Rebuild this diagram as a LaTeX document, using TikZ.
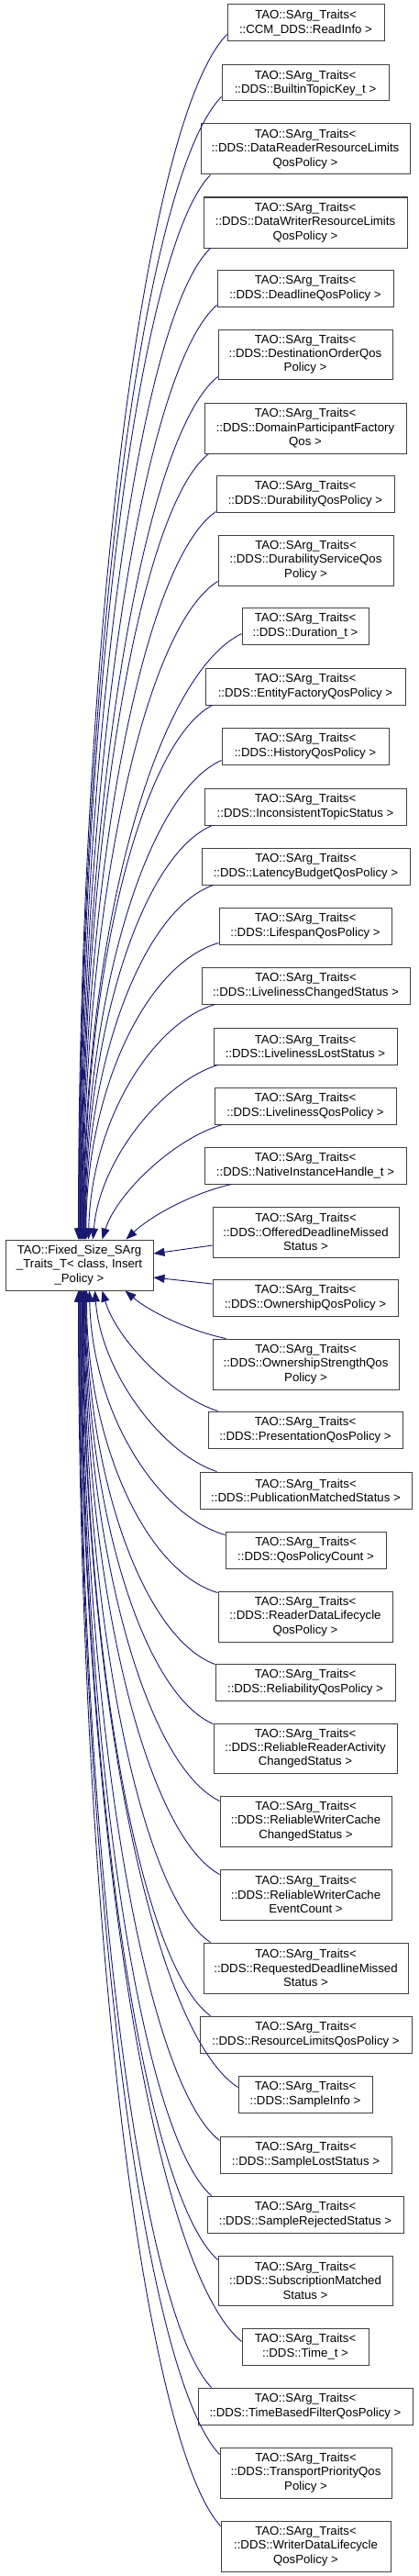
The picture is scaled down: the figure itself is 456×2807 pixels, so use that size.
\documentclass[tikz,border=0pt]{standalone}
\usepackage{fontspec}
\setmainfont{Liberation Sans}
\usetikzlibrary{arrows.meta,calc}
\definecolor{edgeblue}{HTML}{191970}
\definecolor{boxline}{HTML}{404040}
\newcommand\TT{TAO::SArg\_Traits\textless}
\newcommand\cls[6]{\node[cbox,minimum width={(#3-#2)*1pt},minimum height={(#5-#4)*1pt}] (#1) at ({(#2+#3)/2},{(#4+#5)/2}) {#6};}
% general edge: #1 start, #2 end, a,b: C1 = S + (a*dx, b*dy) toward E; c,d: C2 = E + (c*dx, d*dy) back toward S
\newcommand\edg[6]{\draw[conn] let \p1=(#1), \p2=(#2) in (\p1) .. controls ({\x1+#3*(\x2-\x1)},{\y1+#4*(\y2-\y1)}) and ({\x2+#5*(\x1-\x2)},{\y2+#6*(\y1-\y2)}) .. (\p2);}
\newcommand\upedge[2]{\edg{#1}{$(base.north west)+(#2-6,0)$}{0.55}{0.07}{0}{0.5}}
\newcommand\downedge[2]{\edg{#1}{$(base.south west)+(#2-6,0)$}{0.55}{0.07}{0}{0.5}}
\begin{document}
\begin{tikzpicture}[x=1pt,y=-1pt,
  cbox/.style={draw=boxline,line width=1pt,fill=white,inner sep=0pt,align=center,font=\fontsize{13.2}{15.3}\selectfont},
  conn/.style={draw=edgeblue,line width=0.9pt,-{Triangle[length=12pt,width=9pt,fill=edgeblue]}}]
\useasboundingbox (0,0) rectangle (456,2807);
\cls{base}{6}{167}{1351}{1406}{TAO::Fixed\_Size\_SArg\\\_Traits\_T\textless{} class, Insert\\\_Policy \textgreater}
\cls{c1}{248}{419}{5}{45}{\TT\\::CCM\_DDS::ReadInfo \textgreater}
\cls{c2}{242}{424}{71}{110}{\TT\\::DDS::BuiltinTopicKey\_t \textgreater}
\cls{c3}{219}{447}{135}{190}{\TT\\::DDS::DataReaderResourceLimits\\QosPolicy \textgreater}
\cls{c4}{222}{444}{215}{270}{\TT\\::DDS::DataWriterResourceLimits\\QosPolicy \textgreater}
\cls{c5}{237}{429}{294}{334}{\TT\\::DDS::DeadlineQosPolicy \textgreater}
\cls{c6}{238}{428}{359}{413}{\TT\\::DDS::DestinationOrderQos\\Policy \textgreater}
\cls{c7}{223}{443}{439}{494}{\TT\\::DDS::DomainParticipantFactory\\Qos \textgreater}
\cls{c8}{236}{430}{518}{558}{\TT\\::DDS::DurabilityQosPolicy \textgreater}
\cls{c9}{238}{429}{583}{638}{\TT\\::DDS::DurabilityServiceQos\\Policy \textgreater}
\cls{c10}{264}{402}{662}{702}{\TT\\::DDS::Duration\_t \textgreater}
\cls{c11}{224}{442}{728}{768}{\TT\\::DDS::EntityFactoryQosPolicy \textgreater}
\cls{c12}{242}{424}{793}{833}{\TT\\::DDS::HistoryQosPolicy \textgreater}
\cls{c13}{223}{443}{859}{899}{\TT\\::DDS::InconsistentTopicStatus \textgreater}
\cls{c14}{220}{447}{924}{964}{\TT\\::DDS::LatencyBudgetQosPolicy \textgreater}
\cls{c15}{239}{427}{989}{1029}{\TT\\::DDS::LifespanQosPolicy \textgreater}
\cls{c16}{220}{447}{1054}{1094}{\TT\\::DDS::LivelinessChangedStatus \textgreater}
\cls{c17}{233}{433}{1120}{1160}{\TT\\::DDS::LivelinessLostStatus \textgreater}
\cls{c18}{234}{432}{1185}{1225}{\TT\\::DDS::LivelinessQosPolicy \textgreater}
\cls{c19}{223}{443}{1250}{1290}{\TT\\::DDS::NativeInstanceHandle\_t \textgreater}
\cls{c20}{232}{435}{1315}{1370}{\TT\\::DDS::OfferedDeadlineMissed\\Status \textgreater}
\cls{c21}{232}{434}{1394}{1434}{\TT\\::DDS::OwnershipQosPolicy \textgreater}
\cls{c22}{232}{435}{1459}{1514}{\TT\\::DDS::OwnershipStrengthQos\\Policy \textgreater}
\cls{c23}{227}{439}{1538}{1578}{\TT\\::DDS::PresentationQosPolicy \textgreater}
\cls{c24}{218}{449}{1604}{1644}{\TT\\::DDS::PublicationMatchedStatus \textgreater}
\cls{c25}{246}{421}{1669}{1709}{\TT\\::DDS::QosPolicyCount \textgreater}
\cls{c26}{238}{428}{1734}{1789}{\TT\\::DDS::ReaderDataLifecycle\\QosPolicy \textgreater}
\cls{c27}{235}{431}{1813}{1853}{\TT\\::DDS::ReliabilityQosPolicy \textgreater}
\cls{c28}{233}{433}{1878}{1932}{\TT\\::DDS::ReliableReaderActivity\\ChangedStatus \textgreater}
\cls{c29}{240}{427}{1957}{2012}{\TT\\::DDS::ReliableWriterCache\\ChangedStatus \textgreater}
\cls{c30}{240}{427}{2037}{2092}{\TT\\::DDS::ReliableWriterCache\\EventCount \textgreater}
\cls{c31}{222}{445}{2117}{2172}{\TT\\::DDS::RequestedDeadlineMissed\\Status \textgreater}
\cls{c32}{218}{449}{2197}{2237}{\TT\\::DDS::ResourceLimitsQosPolicy \textgreater}
\cls{c33}{260}{406}{2262}{2302}{\TT\\::DDS::SampleInfo \textgreater}
\cls{c34}{240}{427}{2328}{2368}{\TT\\::DDS::SampleLostStatus \textgreater}
\cls{c35}{226}{440}{2393}{2433}{\TT\\::DDS::SampleRejectedStatus \textgreater}
\cls{c36}{238}{428}{2458}{2512}{\TT\\::DDS::SubscriptionMatched\\Status \textgreater}
\cls{c37}{264}{402}{2537}{2577}{\TT\\::DDS::Time\_t \textgreater}
\cls{c38}{216}{450}{2602}{2642}{\TT\\::DDS::TimeBasedFilterQosPolicy \textgreater}
\cls{c39}{240}{427}{2667}{2722}{\TT\\::DDS::TransportPriorityQos\\Policy \textgreater}
\cls{c40}{241}{426}{2747}{2802}{\TT\\::DDS::WriterDataLifecycle\\QosPolicy \textgreater}
% edges from children above
\upedge{$(c1.south west)+(0,-8)$}{86}
\upedge{$(c2.south west)+(0,-5)$}{86.6}
\upedge{$(c3.south west)+(11,0)$}{87.2}
\upedge{$(c4.south west)+(8,0)$}{87.8}
\upedge{$(c5.south west)+(0,-2)$}{88.4}
\upedge{$(c6.south west)+(0,-3)$}{89}
\upedge{$(c7.south west)+(5,0)$}{89.6}
\upedge{$(c8.south west)+(0,-1)$}{90.2}
\upedge{$(c9.south west)+(0,-5)$}{90.8}
\upedge{$(c10.south west)+(0,-12)$}{91.4}
\upedge{$(c11.south west)+(8,0)$}{92}
\upedge{$(c12.south west)+(0,-5)$}{92.6}
\upedge{$(c13.south west)+(9,0)$}{93.2}
\upedge{$(c14.south west)+(13,0)$}{93.8}
\upedge{$(c15.south west)+(0,-2)$}{94.4}
\edg{$(c16.south west)+(15,0)$}{$(base.north west)+(91,0)$}{0.5}{0.08}{0.02}{0.5}
\edg{$(c17.south west)+(5,0)$}{$(base.north west)+(96,0)$}{0.45}{0.1}{0.05}{0.45}
\edg{$(c18.south west)+(9,0)$}{$(base.north west)+(106,0)$}{0.4}{0.12}{0.12}{0.4}
\edg{$(c19.south west)+(30,0)$}{$(base.north west)+(132,0)$}{0.35}{0.15}{0.25}{0.45}
% side edges
\draw[conn] ($(c20.west)+(0,14.5)$) -- ($(base.east)+(0,-12.5)$);
\draw[conn] ($(c21.west)+(0,-15)$) -- ($(base.east)+(0,13.5)$);
% edges from children below
\edg{$(c22.north west)+(15,0)$}{$(base.south west)+(131,0)$}{0.35}{0.15}{0.25}{0.45}
\edg{$(c23.north west)+(11,0)$}{$(base.south west)+(106,0)$}{0.4}{0.12}{0.12}{0.4}
\edg{$(c24.north west)+(19,0)$}{$(base.south west)+(98,0)$}{0.45}{0.1}{0.05}{0.45}
\edg{$(c25.north west)+(0,4)$}{$(base.south west)+(92,0)$}{0.5}{0.08}{0.02}{0.5}
\downedge{$(c26.north west)+(0,2)$}{95}
\downedge{$(c27.north west)+(0,1)$}{94.4}
\downedge{$(c28.north west)+(0,1)$}{93.7}
\downedge{$(c29.north west)+(0,6)$}{93.1}
\downedge{$(c30.north west)+(0,6)$}{92.4}
\downedge{$(c31.north west)+(8,0)$}{91.8}
\downedge{$(c32.north west)+(12,0)$}{91.1}
\downedge{$(c33.north west)+(0,13)$}{90.5}
\downedge{$(c34.north west)+(0,5)$}{89.8}
\downedge{$(c35.north west)+(5,0)$}{89.2}
\downedge{$(c36.north west)+(0,5)$}{88.5}
\downedge{$(c37.north west)+(0,15)$}{87.9}
\downedge{$(c38.north west)+(15,0)$}{87.2}
\downedge{$(c39.north west)+(0,8)$}{86.6}
\downedge{$(c40.north west)+(0,6)$}{86}
\end{tikzpicture}
\end{document}
